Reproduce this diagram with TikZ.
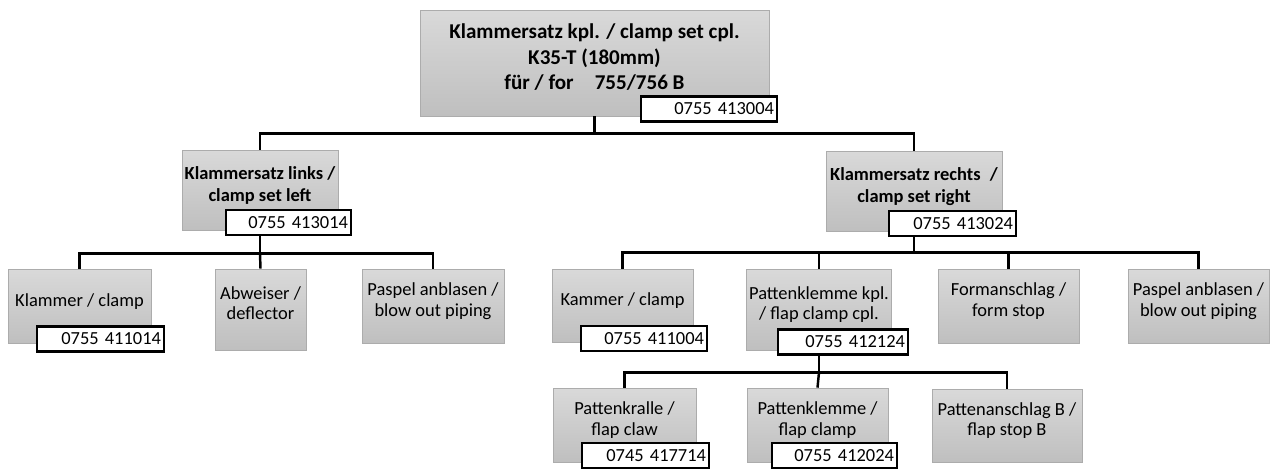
\documentclass[tikz,border=0pt]{standalone}
\usepackage{fontspec}
\setmainfont{Carlito}
\usepackage{tikz}
\usetikzlibrary{positioning,calc}
\usepackage{xcolor}
\definecolor{boxtop}{RGB}{217,217,217}
\definecolor{boxbot}{RGB}{191,191,191}
\definecolor{boxline}{RGB}{172,172,172}

\begin{document}
\begin{tikzpicture}[x=0.02cm,y=-0.02cm,
  part/.style={rectangle,draw=boxline,top color=boxtop,bottom color=boxbot,
    inner sep=0pt,align=center,text depth=0.25cm,
    font=\fontsize{10.5}{11.6}\selectfont},
  group/.style={part,font=\bfseries\fontsize{10.5}{12.6}\selectfont},
  partno/.style={rectangle,draw=black,line width=1.4pt,fill=white,
    inner xsep=0.06cm,inner ysep=0pt,minimum height=0.5cm,align=right,
    font=\fontsize{10.5}{12}\selectfont},
  link/.style={line width=1.4pt}]
\useasboundingbox (0,0) rectangle (1276,470);

% set
\node[group,font=\bfseries\fontsize{12}{14.6}\selectfont,
  minimum width=6.98cm,minimum height=2.12cm] (set) at (594.5,63)
  {Klammersatz kpl. / clamp set cpl.\\K35-T (180mm)\\für / for\quad 755/756 B};

% left and right
\node[group,minimum width=3.12cm,minimum height=1.6cm] (left) at (260,190)
  {Klammersatz links /\\clamp set left};
\node[group,minimum width=3.52cm,minimum height=1.6cm] (right) at (914,191)
  {Klammersatz rechts\enspace/\\clamp set right};

% parts left
\node[part,minimum width=2.86cm,minimum height=1.48cm] (clampL) at (79.5,306)
  {Klammer / clamp};
\node[part,minimum width=1.82cm,minimum height=1.62cm] (deflector) at (260.5,309.5)
  {Abweiser /\\deflector};
\node[part,minimum width=2.84cm,minimum height=1.48cm] (pipingL) at (433,306)
  {Paspel anblasen /\\blow out piping};

% parts right
\node[part,minimum width=2.82cm,minimum height=1.46cm] (clampR) at (622.5,305.5)
  {Kammer / clamp};
\node[part,minimum width=2.9cm,minimum height=1.62cm] (flapset) at (819,309.5)
  {Pattenklemme kpl.\\/ flap clamp cpl.};
\node[part,minimum width=2.82cm,minimum height=1.48cm] (formstop) at (1008.5,306)
  {Formanschlag /\\form stop};
\node[part,minimum width=2.82cm,minimum height=1.48cm] (pipingR) at (1198.5,306)
  {Paspel anblasen /\\blow out piping};

% flap clamp parts
\node[part,minimum width=2.86cm,minimum height=1.48cm] (claw) at (624.5,425)
  {Pattenkralle /\\flap claw};
\node[part,minimum width=2.82cm,minimum height=1.48cm] (flapclamp) at (817.5,425)
  {Pattenklemme /\\flap clamp};
\node[part,minimum width=3.0cm,minimum height=1.46cm] (flapstop) at (1007,425.5)
  {Pattenanschlag B /\\flap stop B};

% lines
\draw[link] (set.south) -- ++(0,17) coordinate (bus0);
\draw[link] (left.north) |- (bus0) -| (right.north);
\draw[link] (left.south) -- ++(0,23) coordinate (bus1);
\draw[link] (clampL.north) |- (bus1) -| (pipingL.north);
\draw[link] (bus1) -- (deflector.north);
\draw[link] (right.south) -- ++(0,21) coordinate (bus2);
\draw[link] (clampR.north) |- (bus2) -| (pipingR.north);
\draw[link] (flapset.north) |- (bus2);
\draw[link] (formstop.north) |- (bus2);
\draw[link] (flapset.south) -- ++(0,22) coordinate (bus3);
\draw[link] (claw.north) |- (bus3) -| (flapstop.north);
\draw[link] (bus3) -- (flapclamp.north);

% part numbers
\node[partno,text width=2.6cm] (setno) at (709,109) {0755 413004};
\node[partno,text width=2.38cm] (leftno) at (288.5,222.5) {0755 413014};
\node[partno,text width=2.42cm] (rightno) at (952.5,223.5) {0755 413024};
\node[partno,text width=2.42cm] (clampLno) at (100.5,339) {0755 411014};
\node[partno,text width=2.4cm] (clampRno) at (644,338.5) {0755 411004};
\node[partno,text width=2.48cm] (flapsetno) at (843,342) {0755 412124};
\node[partno,text width=2.42cm] (clawno) at (645.5,455.5) {0745 417714};
\node[partno,text width=2.38cm] (flapclampno) at (834.5,455.5) {0755 412024};
\end{tikzpicture}
\end{document}
